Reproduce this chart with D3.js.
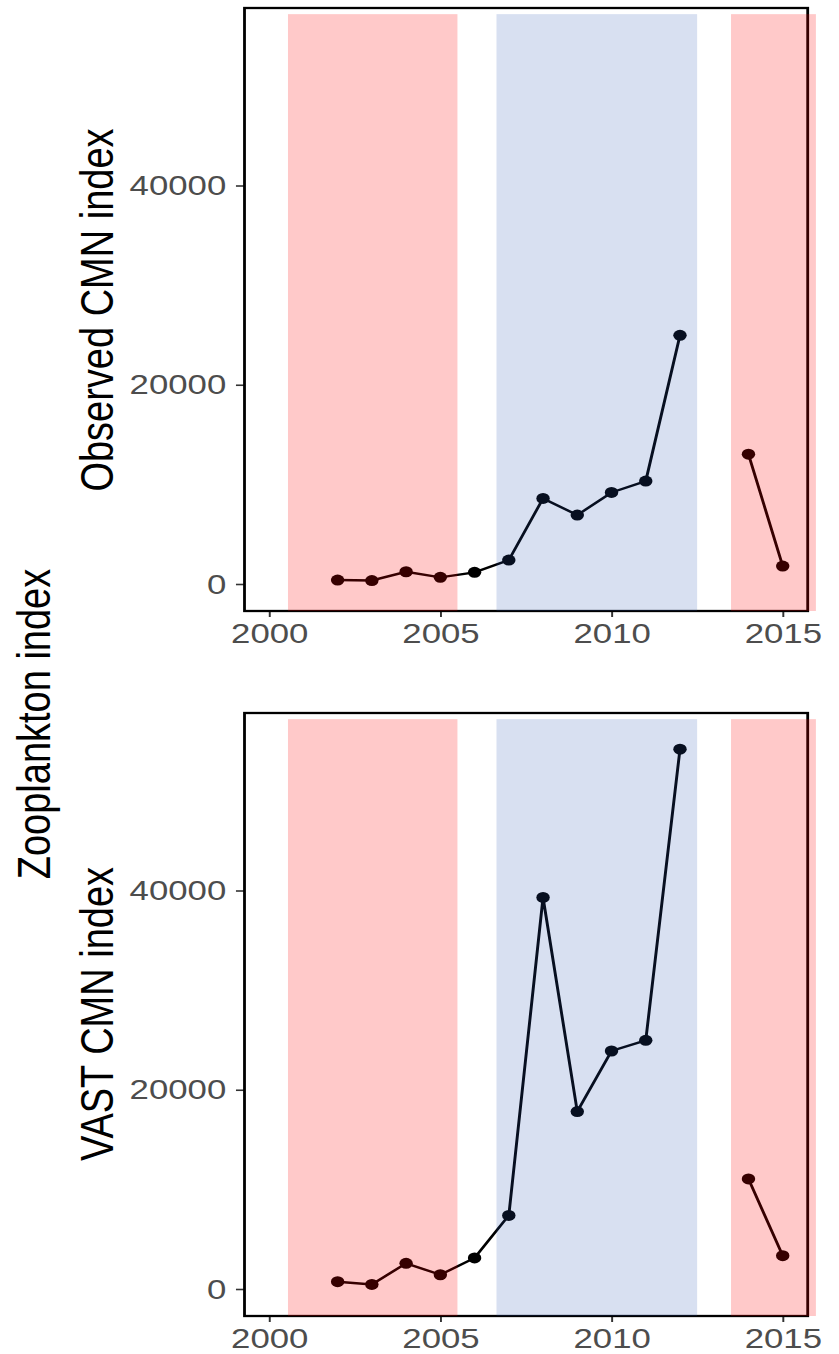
<!DOCTYPE html>
<html>
<head>
<meta charset="utf-8">
<script src="https://cdn.jsdelivr.net/npm/d3@7"></script>
<style>
  body { margin: 0; background: #fff; }
  svg { display: block; }
  text { font-family: "Liberation Sans", Arial, sans-serif; }
</style>
</head>
<body>
<div id="chart-area"></div>
<script>
// yearly values (2013 missing)
var years = [2002, 2003, 2004, 2005, 2006, 2007, 2008, 2009, 2010, 2011, 2012, 2013, 2014, 2015];
var observed = [400, 350, 1230, 670, 1170, 2400, 8590, 6920, 9190, 10330, 24960, null, 13030, 1800];
var vast = [730, 460, 2580, 1430, 3120, 7390, 39300, 17810, 23890, 24960, 54190, null, 11050, 3350];

// shaded periods
var bandStart = [2000.55, 2006.64, 2013.49];
var bandEnd = [2005.5, 2012.5, 2015.97];
var bandType = ["warm", "cold", "warm"];

var xTicks = [2000, 2005, 2010, 2015];
var yTicks = [0, 20000, 40000];

var panelTitles = ["Observed CMN index", "VAST CMN index"];
var panelSeries = [observed, vast];

// picture is stretched sideways, so draw in a narrower space
var stretch = 1.22;
var W = 839 / stretch;
var H = 1354;

var svg = d3
  .select("#chart-area")
  .append("svg")
  .attr("width", 839)
  .attr("height", H)
  .attr("viewBox", "0 0 " + W + " " + H)
  .attr("preserveAspectRatio", "none");

var left = 244.5 / stretch;
var right = 807.7 / stretch;
var panelH = 603;
var panelTop = [8, 713];

var x = d3.scaleLinear().domain([1999.28, 2015.73]).range([left, right]);

var bandFill = { warm: "rgb(255,0,0)", cold: "rgb(38,83,177)" };
var bandAlpha = { warm: 0.21, cold: 0.18 };

panelSeries.forEach((series, p) => {
  var top = panelTop[p];
  var y = d3.scaleLinear().domain([-2710, 57817]).range([top + panelH, top]);

  var g = svg.append("g");

  var pts = years.map((yr, i) => ({ year: yr, value: series[i] }));

  var line = d3
    .line()
    .defined((d) => d.value !== null)
    .x((d) => x(d.year))
    .y((d) => y(d.value));

  g.append("path")
    .datum(pts)
    .attr("d", line)
    .attr("fill", "none")
    .attr("stroke", "#000")
    .attr("stroke-width", 2.4);

  g.selectAll("circle")
    .data(pts.filter((d) => d.value !== null))
    .enter()
    .append("circle")
    .attr("cx", (d) => x(d.year))
    .attr("cy", (d) => y(d.value))
    .attr("r", 5.5)
    .attr("fill", "#000");

  // axes
  var yAxis = g
    .append("g")
    .attr("transform", "translate(" + left + ",0)")
    .call(d3.axisLeft(y).tickValues(yTicks).tickFormat(d3.format("d")).tickSize(7).tickPadding(8).tickSizeOuter(0));

  var xAxis = g
    .append("g")
    .attr("transform", "translate(0," + (top + panelH) + ")")
    .call(d3.axisBottom(x).tickValues(xTicks).tickFormat(d3.format("d")).tickSize(6).tickPadding(6).tickSizeOuter(0));

  [yAxis, xAxis].forEach((a) => {
    a.select(".domain").remove();
    a.selectAll("line").attr("stroke", "#333").attr("stroke-width", 1.6);
    a.selectAll("text").attr("fill", "#4d4d4d").style("font-size", "28.5px");
  });

  // panel border
  g.append("rect")
    .attr("x", left)
    .attr("y", top)
    .attr("width", right - left)
    .attr("height", panelH)
    .attr("fill", "none")
    .attr("stroke", "#000")
    .attr("stroke-width", 2.3);

  // bands sit on top of everything, see-through
  g.selectAll("rect.band")
    .data(bandStart)
    .enter()
    .append("rect")
    .attr("class", "band")
    .attr("x", (d) => x(d))
    .attr("width", (d, i) => x(bandEnd[i]) - x(d))
    .attr("y", y(57200))
    .attr("height", y(-2710) - y(57200))
    .attr("fill", (d, i) => bandFill[bandType[i]])
    .attr("fill-opacity", (d, i) => bandAlpha[bandType[i]]);

  g.append("text")
    .attr("transform", "translate(" + 113 / stretch + "," + (p === 0 ? 310 : 1014) + ") rotate(-90)")
    .attr("text-anchor", "middle")
    .style("font-size", "38px")
    .attr("fill", "#000")
    .text(panelTitles[p]);
});

svg
  .append("text")
  .attr("transform", "translate(" + 50 / stretch + ",724) rotate(-90)")
  .attr("text-anchor", "middle")
  .style("font-size", "38px")
  .attr("fill", "#000")
  .text("Zooplankton index");
</script>
</body>
</html>
